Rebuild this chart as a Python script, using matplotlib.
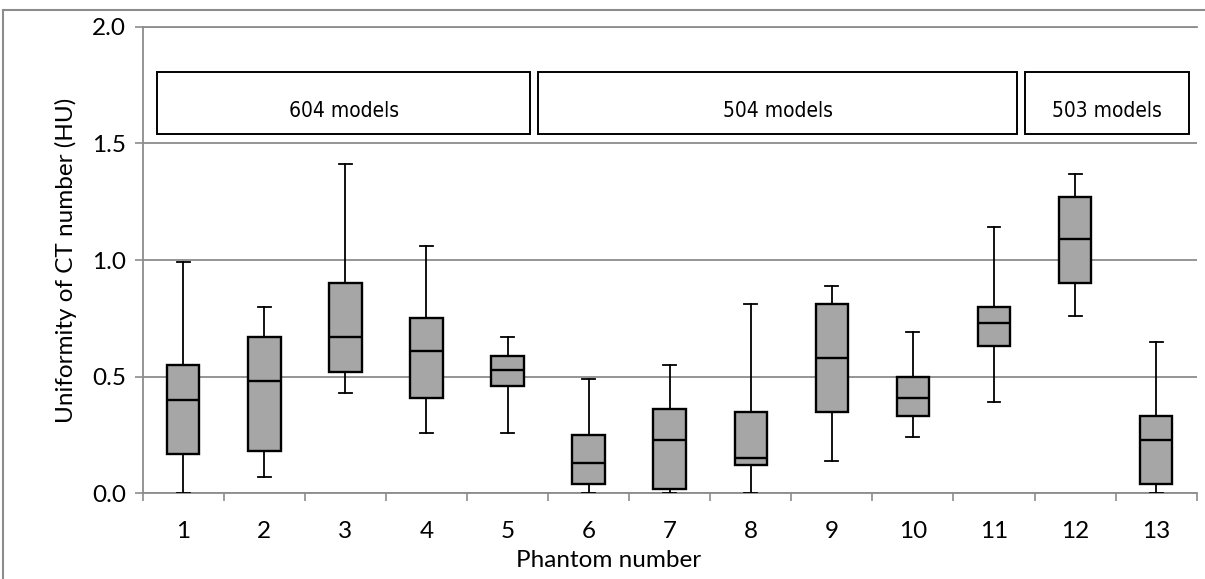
import numpy as np
import matplotlib.pyplot as plt
from matplotlib.patches import Rectangle
from matplotlib.lines import Line2D

# CT number uniformity per phantom (box plot five-number summaries)
phantoms = ['1', '2', '3', '4', '5', '6', '7', '8', '9', '10', '11', '12', '13']
mins = [0.00, 0.07, 0.43, 0.26, 0.26, 0.00, 0.00, 0.00, 0.14, 0.24, 0.39, 0.76, 0.00]
q1s = [0.17, 0.18, 0.52, 0.41, 0.46, 0.04, 0.02, 0.12, 0.35, 0.33, 0.63, 0.90, 0.04]
medians = [0.40, 0.48, 0.67, 0.61, 0.53, 0.13, 0.23, 0.15, 0.58, 0.41, 0.73, 1.09, 0.23]
q3s = [0.55, 0.67, 0.90, 0.75, 0.59, 0.25, 0.36, 0.35, 0.81, 0.50, 0.80, 1.27, 0.33]
maxs = [0.99, 0.80, 1.41, 1.06, 0.67, 0.49, 0.55, 0.81, 0.89, 0.69, 1.14, 1.37, 0.65]

# scanner model groups
groups = ['604 models', '504 models', '503 models']
group_first = [1, 6, 12]
group_last = [5, 11, 13]

grid_col = '#8c8c8c'
box_col = '#a6a6a6'

plt.rcParams['font.family'] = ['Lato', 'DejaVu Sans']

fig = plt.figure(figsize=(12.05, 5.79), dpi=100)
ax = fig.add_axes([0.1184, 0.148, 0.8747, 0.8058])

stats = []
for i in range(len(phantoms)):
    stats.append({'whislo': mins[i], 'q1': q1s[i], 'med': medians[i],
                  'q3': q3s[i], 'whishi': maxs[i], 'fliers': [],
                  'label': phantoms[i]})

pos = np.arange(1, len(phantoms) + 1)
ax.bxp(stats, positions=pos, widths=0.40, capwidths=0.16, patch_artist=True,
       showfliers=False,
       boxprops=dict(facecolor=box_col, edgecolor='black', linewidth=1.7),
       medianprops=dict(color='black', linewidth=1.7),
       whiskerprops=dict(color='black', linewidth=1.3),
       capprops=dict(color='black', linewidth=1.3),
       zorder=3)

ax.set_xlim(0.5, len(phantoms) + 0.5)
ax.set_ylim(0, 2.0)

# category labels in the middle, tick marks on the boundaries
ax.set_xticks(np.arange(0.5, len(phantoms) + 1, 1.0))
ax.set_xticklabels([])
ax.set_xticks(pos, minor=True)
ax.set_xticklabels(phantoms, minor=True)
ax.tick_params(axis='x', which='major', direction='out', length=6,
               width=1.2, color=grid_col)
ax.tick_params(axis='x', which='minor', length=0, pad=20, labelsize=17.5)

ax.set_yticks([0.0, 0.5, 1.0, 1.5, 2.0])
ax.set_yticklabels(['0.0', '0.5', '1.0', '1.5', '2.0'])
ax.tick_params(axis='y', direction='out', length=6, width=1.2,
               color=grid_col, labelsize=17.5, pad=6)

ax.yaxis.grid(True, color=grid_col, linewidth=1.3)
ax.set_axisbelow(True)
for side in ['left', 'bottom', 'top']:
    ax.spines[side].set_color(grid_col)
    ax.spines[side].set_linewidth(1.3)
ax.spines['right'].set_visible(False)

ax.set_ylabel('Uniformity of CT number (HU)', fontsize=17.5, labelpad=11)
fig.text(0.505, 0.032, 'Phantom number', fontsize=17.5, ha='center', va='center')

# group boxes above the data
for name, a, b in zip(groups, group_first, group_last):
    x0 = a - 0.32 if a == 1 else a - 0.62
    x1 = b + 0.28 if b < len(phantoms) else b + 0.41
    ax.add_patch(Rectangle((x0, 1.54), x1 - x0, 0.265, facecolor='white',
                           edgecolor='black', linewidth=1.4, zorder=4))
    ax.text((x0 + x1) / 2, 1.64, name, ha='center', va='center',
            fontsize=15, fontstretch='condensed', zorder=5,
            family='DejaVu Sans')

# outer chart frame
fig.add_artist(Line2D([0.0025, 0.0025], [0.0, 0.982], color=grid_col, lw=1.5))
fig.add_artist(Line2D([0.0025, 1.0], [0.982, 0.982], color=grid_col, lw=1.5))

fig.savefig('out.png', dpi=100)
